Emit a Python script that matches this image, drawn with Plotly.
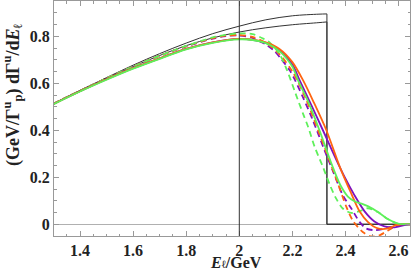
import plotly.graph_objects as go

# ---- data ----
E_black = [1.3, 1.4, 1.5, 1.6, 1.7, 1.8, 1.9, 2.0, 2.1, 2.2, 2.3, 2.33]
black_hi = [0.514, 0.570, 0.624, 0.677, 0.726, 0.771, 0.811, 0.843, 0.870, 0.887, 0.894, 0.895]
black_lo = [0.513, 0.568, 0.621, 0.671, 0.718, 0.760, 0.793, 0.818, 0.836, 0.849, 0.858, 0.861]
E_endpoint = 2.33
E_max = 2.645

E_sp = [1.3, 1.4, 1.5, 1.6, 1.7, 1.8, 1.9, 2.0, 2.05, 2.1, 2.15, 2.2, 2.227, 2.27, 2.315, 2.359, 2.397, 2.434, 2.472, 2.509, 2.547, 2.585, 2.622, 2.645]
y_sp = [0.512, 0.566, 0.617, 0.664, 0.706, 0.746, 0.774, 0.789, 0.785, 0.772, 0.742, 0.680, 0.613, 0.510, 0.400, 0.290, 0.200, 0.123, 0.055, 0.012, -0.009, -0.013, -0.004, 0.0]

E_so = [1.3, 1.4, 1.5, 1.6, 1.7, 1.8, 1.9, 2.0, 2.05, 2.1, 2.15, 2.2, 2.24, 2.28, 2.328, 2.38, 2.422, 2.453, 2.484, 2.522, 2.559, 2.591, 2.61, 2.645]
y_so = [0.512, 0.566, 0.617, 0.664, 0.706, 0.746, 0.774, 0.789, 0.786, 0.774, 0.747, 0.690, 0.613, 0.520, 0.400, 0.240, 0.130, 0.055, 0.010, -0.018, -0.018, -0.003, 0.0, 0.0]

E_sg = [1.3, 1.4, 1.5, 1.6, 1.7, 1.8, 1.9, 2.0, 2.05, 2.1, 2.15, 2.2, 2.221, 2.26, 2.302, 2.347, 2.38, 2.409, 2.434, 2.46, 2.484, 2.522, 2.559, 2.597, 2.645]
y_sg = [0.511, 0.565, 0.615, 0.662, 0.704, 0.744, 0.772, 0.787, 0.784, 0.771, 0.738, 0.670, 0.613, 0.520, 0.400, 0.258, 0.168, 0.118, 0.098, 0.088, 0.077, 0.052, 0.022, 0.003, 0.0]

E_dp = [1.3, 1.4, 1.5, 1.6, 1.7, 1.8, 1.9, 1.95, 2.0, 2.05, 2.1, 2.13, 2.16, 2.19, 2.21, 2.24, 2.277, 2.321, 2.355, 2.39, 2.422, 2.453, 2.478, 2.51, 2.55, 2.59, 2.62, 2.645]
y_dp = [0.513, 0.568, 0.621, 0.671, 0.717, 0.757, 0.790, 0.801, 0.803, 0.793, 0.765, 0.740, 0.700, 0.655, 0.613, 0.540, 0.443, 0.315, 0.220, 0.123, 0.067, 0.010, -0.018, -0.025, -0.018, -0.006, 0.0, 0.0]

E_do = [1.3, 1.4, 1.5, 1.6, 1.7, 1.8, 1.9, 1.95, 2.0, 2.05, 2.1, 2.15, 2.2, 2.25, 2.3, 2.34, 2.371, 2.403, 2.428, 2.465, 2.497, 2.528, 2.559, 2.59, 2.615, 2.645]
y_do = [0.513, 0.568, 0.621, 0.671, 0.717, 0.758, 0.792, 0.803, 0.805, 0.797, 0.772, 0.725, 0.650, 0.535, 0.390, 0.270, 0.175, 0.075, 0.015, -0.033, -0.052, -0.047, -0.027, -0.008, 0.0, 0.0]

E_dg = [1.3, 1.4, 1.5, 1.6, 1.7, 1.8, 1.9, 1.95, 2.0, 2.05, 2.09, 2.115, 2.15, 2.18, 2.212, 2.24, 2.259, 2.284, 2.315, 2.342, 2.365, 2.39, 2.422, 2.459, 2.484, 2.522, 2.559, 2.597, 2.645]
y_dg = [0.513, 0.568, 0.621, 0.671, 0.717, 0.759, 0.795, 0.806, 0.812, 0.809, 0.790, 0.773, 0.727, 0.655, 0.556, 0.471, 0.415, 0.329, 0.244, 0.165, 0.109, 0.067, 0.048, 0.058, 0.068, 0.052, 0.022, 0.003, 0.0]

x_ticks = [1.4, 1.6, 1.8, 2.0, 2.2, 2.4, 2.6]
x_ticktext = ["1.4", "1.6", "1.8", "2", "2.2", "2.4", "2.6"]
y_ticks = [0, 0.2, 0.4, 0.6, 0.8]
y_ticktext = ["0", "0.2", "0.4", "0.6", "0.8"]

PURPLE = "#7d10c0"
ORANGE = "#ff6410"
GREEN = "#5ef05a"
BLACK = "#333333"

fig = go.Figure()

# black reference curves
for yb in (black_hi, black_lo):
    fig.add_trace(go.Scatter(x=E_black, y=yb, mode="lines",
                             line=dict(color=BLACK, width=1, shape="spline"),
                             showlegend=False, hoverinfo="skip"))
    fig.add_trace(go.Scatter(x=[E_endpoint, E_endpoint, E_max], y=[yb[-1], 0, 0], mode="lines",
                             line=dict(color=BLACK, width=1),
                             showlegend=False, hoverinfo="skip"))

dash = "6px,4px"
for xs, ys, c in ((E_dp, y_dp, PURPLE), (E_do, y_do, ORANGE), (E_dg, y_dg, GREEN)):
    fig.add_trace(go.Scatter(x=xs, y=ys, mode="lines",
                             line=dict(color=c, width=1.8, dash=dash, shape="spline", smoothing=0.8),
                             showlegend=False, hoverinfo="skip"))
for xs, ys, c in ((E_sp, y_sp, PURPLE), (E_so, y_so, ORANGE), (E_sg, y_sg, GREEN)):
    fig.add_trace(go.Scatter(x=xs, y=ys, mode="lines",
                             line=dict(color=c, width=1.8, shape="spline", smoothing=0.8),
                             showlegend=False, hoverinfo="skip"))

# vertical line at E = 2 GeV
fig.add_shape(type="line", xref="x", yref="paper", x0=2.0, x1=2.0, y0=0, y1=1,
              line=dict(color=BLACK, width=1))

FONT = "Liberation Serif"
axis_common = dict(showline=True, mirror="allticks", linecolor="#999999", linewidth=1,
                   ticks="inside", ticklen=5, tickcolor="#999999", showgrid=False,
                   automargin=False,
                   tickfont=dict(family=FONT, size=16, color="#222222"))

fig.update_xaxes(range=[1.302, 2.643], tickvals=x_ticks,
                 ticktext=["<b>%s</b>" % t for t in x_ticktext],
                 zeroline=False,
                 minor=dict(dtick=0.05, tick0=1.3, ticks="inside", ticklen=2.5, tickcolor="#999999"),
                 **axis_common)
fig.update_yaxes(range=[-0.05, 0.95], tickvals=y_ticks,
                 ticktext=["<b>%s</b>" % t for t in y_ticktext],
                 zeroline=True, zerolinecolor="#b0b0b0", zerolinewidth=1,
                 minor=dict(dtick=0.05, tick0=0, ticks="inside", ticklen=2.5, tickcolor="#999999"),
                 **axis_common)

fig.add_annotation(xref="paper", yref="paper", x=0.51, y=-0.066, yanchor="top",
                   text="<b><i>E</i><span style='font-size:11px'>ℓ</span>/GeV</b>", showarrow=False,
                   font=dict(family=FONT, size=16, color="#222222"))
fig.add_annotation(xref="paper", yref="paper", x=-0.118, y=0.6, xanchor="center",
                   text="<b>(GeV/Γ<sup>u</sup><sub>p</sub>) dΓ<sup>u</sup>/d<i>E</i><sub>ℓ</sub></b>",
                   textangle=-90, showarrow=False,
                   font=dict(family=FONT, size=18, color="#222222"))

fig.update_layout(width=411, height=270, margin=dict(l=54, r=1, t=1, b=34),
                  plot_bgcolor="white", paper_bgcolor="white")

fig.write_html("out.html", config={"displayModeBar": False},
               post_script="document.body.style.margin='0';document.body.style.padding='0';document.body.style.overflow='hidden';")
